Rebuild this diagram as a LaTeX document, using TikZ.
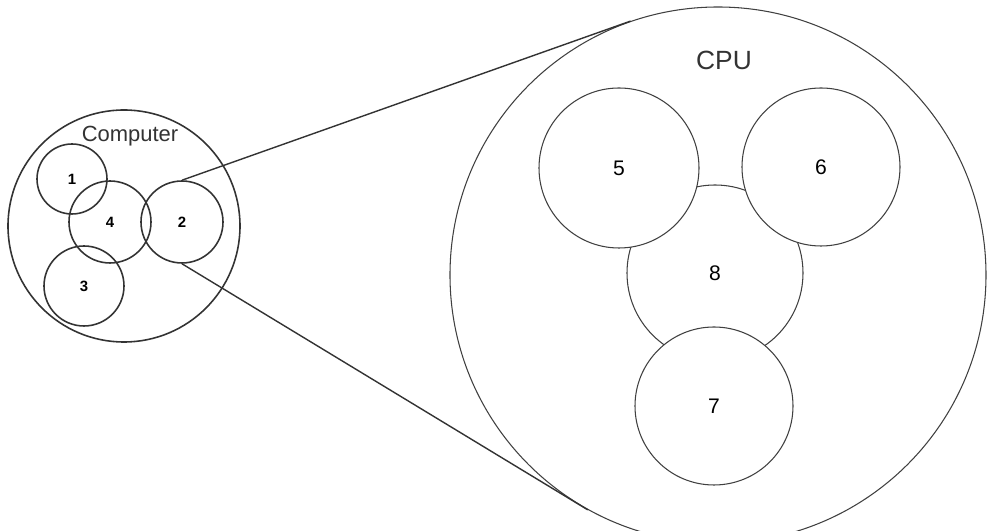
\documentclass[tikz,border=0pt]{standalone}
\usepackage{fontspec}
\setmainfont{Liberation Sans}

\begin{document}
\begin{tikzpicture}[
    x=0.2mm, y=-0.2mm,
    part/.style={
      circle, draw=black!80, line width=0.9pt, inner sep=0pt,
      minimum size=#1, font=\fontsize{8.5}{10}\selectfont\bfseries
    },
    unit/.style={
      circle, draw=black!75, line width=0.6pt, fill=white, inner sep=0pt,
      minimum size=#1, font=\fontsize{12}{14}\selectfont
    },
    link/.style={draw=black!80, line width=0.8pt}
    ]
  \useasboundingbox (0,0) rectangle (988,531);

  % the computer
  \node[part=46.4mm] (comp) at (124,226) {};
  \node[font=\fontsize{12.5}{14}\selectfont, text=black!80] (compname) at (130,136) {Computer};
  \node[part=14mm] (c1) at (72,179) {1};
  \node[part=16.4mm] (c4) at (110,222) {4};
  \node[part=16.4mm] (c2) at (182,222) {2};
  \node[part=16mm] (c3) at (84,286) {3};

  % the cpu
  \node[unit=107.2mm] (cpu) at (718,275) {};
  \node[font=\fontsize{15}{17}\selectfont, text=black!80] (cpuname) at (724,60) {CPU};
  \node[unit=35.2mm] (c8) at (715,273) {8};
  \node[unit=32mm] (c5) at (619,168) {5};
  \node[unit=31.6mm] (c6) at (821,167) {6};
  \node[unit=31.6mm] (c7) at (714,406) {7};

  % zoom onto part 2
  \draw[link] (c2.north) -- (cpu.109);
  \draw[link] (c2.south) -- (cpu.241);
\end{tikzpicture}
\end{document}
